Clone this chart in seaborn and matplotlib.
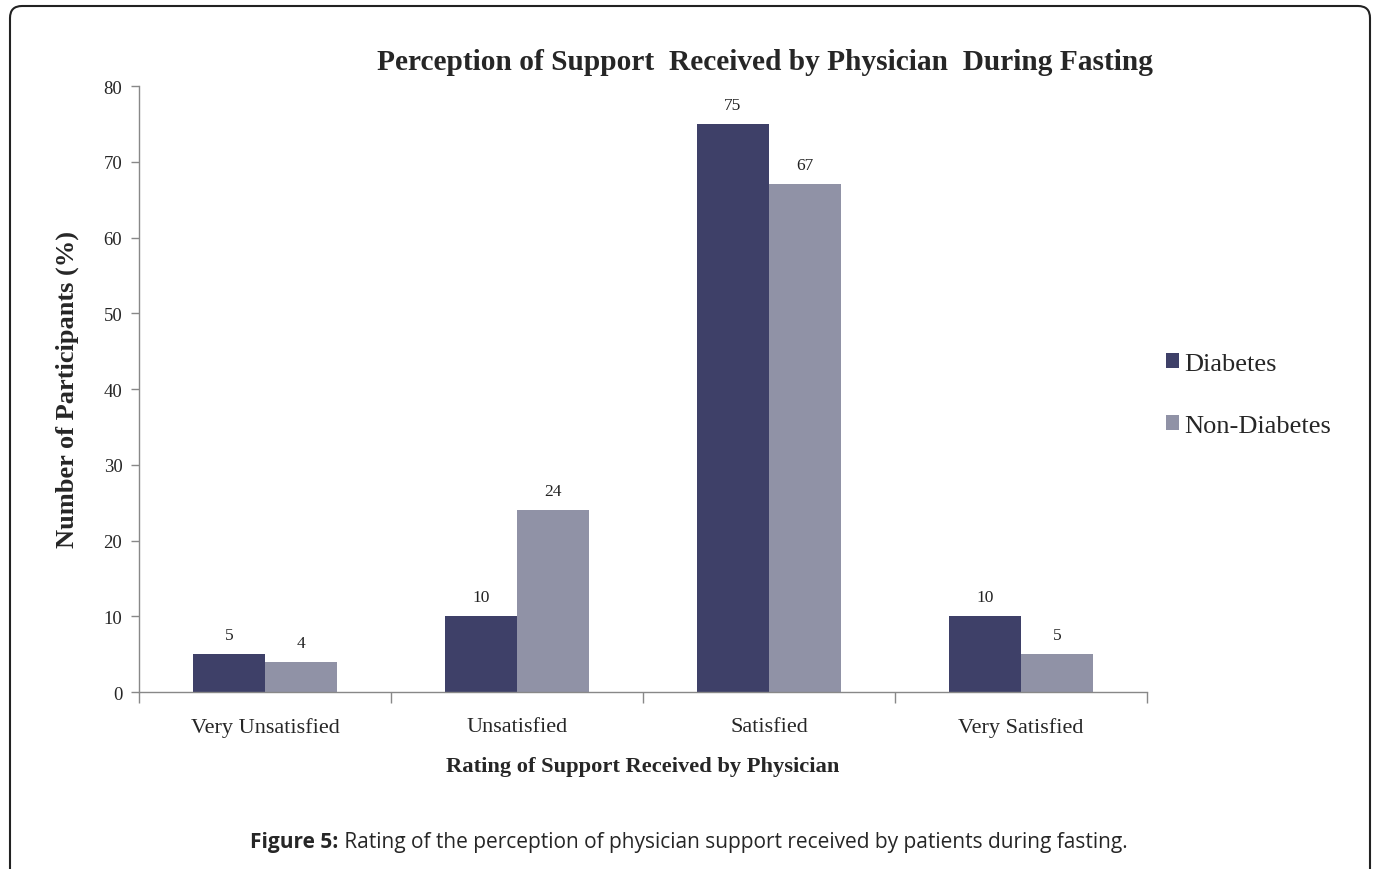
import matplotlib
matplotlib.use("Agg")
import matplotlib.pyplot as plt
import seaborn as sns
import pandas as pd
import numpy as np
from matplotlib.patches import FancyBboxPatch
from matplotlib.transforms import IdentityTransform
from matplotlib.ticker import FixedLocator

categories = ["Very Unsatisfied", "Unsatisfied", "Satisfied", "Very Satisfied"]
diabetes = [5, 10, 75, 10]
non_diabetes = [4, 24, 67, 5]
series_names = ["Diabetes", "Non-Diabetes"]
y_ticks = [0, 10, 20, 30, 40, 50, 60, 70, 80]

df = pd.DataFrame({
    "Rating": categories * 2,
    "Value": diabetes + non_diabetes,
    "Group": [series_names[0]] * 4 + [series_names[1]] * 4,
})

sns.set_theme(style="white")
plt.rcParams["font.family"] = ["Liberation Serif", "DejaVu Serif"]

fig = plt.figure(figsize=(13.76, 8.70), dpi=100)
ax = fig.add_axes([139 / 1376, 1 - 693 / 870, (1147 - 139) / 1376, (693 - 87) / 870])

palette = {"Diabetes": "#3e4068", "Non-Diabetes": "#9092a6"}
sns.barplot(data=df, x="Rating", y="Value", hue="Group", order=categories,
            hue_order=series_names, palette=palette, width=0.572, gap=0,
            saturation=1, ax=ax, legend=True, edgecolor="none")

for cont in ax.containers:
    ax.bar_label(cont, fmt="%g", padding=8, fontsize=12.5, color="#222222")

ax.set_ylim(0, 80)
ax.set_xlim(-0.5, 3.5)
ax.set_yticks(y_ticks)
ax.tick_params(axis="y", which="major", direction="out", length=6, width=1,
               color="#888888", labelsize=13.5, pad=6, left=True)
ax.set_xticks(range(len(categories)))
ax.set_xticklabels(categories, fontsize=16)
ax.tick_params(axis="x", which="major", length=0, pad=18)
ax.xaxis.set_minor_locator(FixedLocator([-0.5, 0.5, 1.5, 2.5, 3.5]))
ax.tick_params(axis="x", which="minor", direction="out", length=8, width=1,
               color="#888888", bottom=True)

for s in ["top", "right"]:
    ax.spines[s].set_visible(False)
for s in ["left", "bottom"]:
    ax.spines[s].set_color("#888888")
    ax.spines[s].set_linewidth(1)

ax.set_xlabel("Rating of Support Received by Physician", fontsize=16.2,
              fontweight="bold", labelpad=14)
ax.set_ylabel("Number of Participants (%)", fontsize=19, fontweight="bold",
              labelpad=18)

fig.text(765 / 1376, 1 - 62 / 870,
         "Perception of Support  Received by Physician  During Fasting",
         ha="center", va="center", fontsize=21.2, fontweight="bold")

handles, labels = ax.get_legend_handles_labels()
ax.legend_.remove()
fig.legend(handles, labels, loc="center left",
           bbox_to_anchor=(1153 / 1376, 1 - 396 / 870), frameon=False,
           fontsize=19, handlelength=0.5, handleheight=0.5,
           handletextpad=0.2, labelspacing=1.5, borderpad=0)

# Caption
fig.canvas.draw()
renderer = fig.canvas.get_renderer()
cap_font = ["Open Sans", "DejaVu Sans"]
t1 = fig.text(0, 1 - 843 / 870, "Figure 5:", fontsize=15, fontweight="bold",
              family=cap_font, va="center", ha="left")
t2 = fig.text(0, 1 - 843 / 870,
              " Rating of the perception of physician support received by patients during fasting.",
              fontsize=15, family=cap_font, va="center", ha="left")
w1 = t1.get_window_extent(renderer).width
w2 = t2.get_window_extent(renderer).width
total = w1 + w2
x0 = 689 - total / 2
t1.set_x(x0 / 1376)
t2.set_x((x0 + w1) / 1376)

border = FancyBboxPatch((10, -30), 1360, 870 - 7 + 30,
                        boxstyle="round,pad=0,rounding_size=12",
                        transform=IdentityTransform(), fill=False,
                        edgecolor="#222222", linewidth=1.5, clip_on=False)
fig.patches.append(border)

fig.savefig("out.png", dpi=100)
